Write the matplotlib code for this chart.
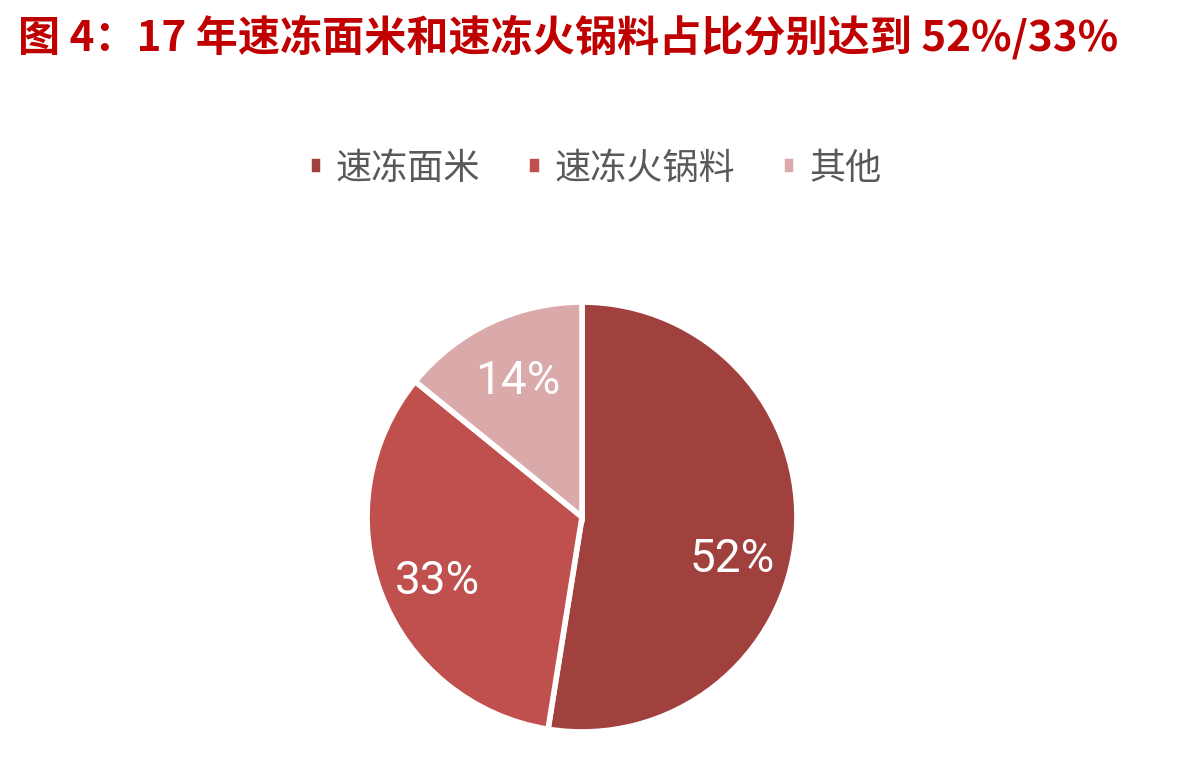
import matplotlib
matplotlib.use('Agg')
from matplotlib import pyplot as plt

plt.rcParams['font.family'] = ['Noto Sans CJK SC', 'DejaVu Sans']

title = '图 4：17 年速冻面米和速冻火锅料占比分别达到 52%/33%'
categories = ['速冻面米', '速冻火锅料', '其他']
shares = [52, 33, 14]
colours = ['#A0413E', '#C0504D', '#D9AAA9']

fig = plt.figure(figsize=[12.02, 7.66], dpi=100)
fig.text(0.015, 0.951, title, color='#C00000', fontsize=30.3, fontweight='bold',
         va='center', ha='left')

ax = fig.add_axes([366 / 1202, 33 / 766, 432 / 1202, 432 / 766])
wedges, texts, autotexts = ax.pie(
    shares, colors=colours, startangle=90, counterclock=False,
    autopct=lambda p: '', pctdistance=0.7,
    wedgeprops=dict(edgecolor='white', linewidth=4))

for t, v in zip(autotexts, shares):
    t.set_text(f'{v}%')
    t.set_color('white')
    t.set_fontsize(33)
    t.set_family(['Roboto', 'DejaVu Sans'])
# excel puts the big slice label a bit lower
x, y = autotexts[0].get_position()
autotexts[0].set_position((x, y - 0.14))
x, y = autotexts[1].get_position()
autotexts[1].set_position((x - 0.02, y - 0.05))

ax.set_xlim(-1.005, 1.005)
ax.set_ylim(-1.005, 1.005)
ax.set_aspect('equal')
ax.axis('off')

fig.legend(wedges, categories, loc='center', bbox_to_anchor=(0.495, 0.78),
           ncol=3, frameon=False, fontsize=26, labelcolor='#595959',
           handlelength=0.4, handleheight=0.4, handletextpad=0.35,
           columnspacing=1.3)

plt.savefig('out.png', dpi=100, facecolor='white')
plt.close()
